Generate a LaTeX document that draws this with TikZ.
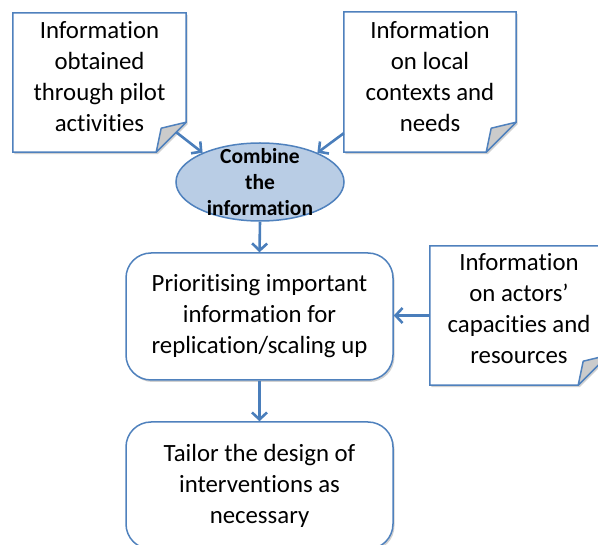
\documentclass[tikz,border=0pt]{standalone}
\usepackage{fontspec}
\setmainfont{Carlito}[Ligatures={NoCommon}]
\usetikzlibrary{shapes.geometric,arrows.meta,calc,shadows}
\definecolor{bordblue}{HTML}{4F81BD}
\definecolor{arrblue}{HTML}{4A7EBB}
\definecolor{ellfill}{HTML}{B9CDE5}
\definecolor{foldgray}{HTML}{CBCBCB}
\newcommand\mybodyfont{\fontsize{24.8}{31}\selectfont}
\newcommand\mynote[1]{%
  \path[notebody] (#1.north west) -- (#1.north east) -- ($(#1.south east)+(0pt,30pt)$) -- ($(#1.south east)+(-30pt,0pt)$) -- (#1.south west) -- cycle;
  \path[notefold] ($(#1.south east)+(0pt,30pt)$) -- ($(#1.south east)+(-25pt,24pt)$) -- ($(#1.south east)+(-30pt,0pt)$) -- cycle;
}
\tikzset{
  mydrop/.style={drop shadow={shadow xshift=1.5pt, shadow yshift=-2pt, opacity=0.18, fill=black}},
  notearea/.style={draw=none, minimum width=#1, inner sep=0pt},
  notebody/.style={draw=bordblue, line width=1.5pt, fill=white, line join=miter, mydrop},
  notefold/.style={draw=bordblue, line width=1.5pt, fill=foldgray, line join=round},
  txt/.style={align=center, font=\mybodyfont, inner sep=0pt},
  roundbox/.style={draw=bordblue, line width=1.5pt, fill=white, rounded corners=25pt,
    minimum width=267pt, minimum height=127pt, align=center, font=\mybodyfont, inner sep=0pt, mydrop},
  ellbox/.style={ellipse, draw=bordblue, line width=1.5pt, fill=ellfill, minimum width=168pt, minimum height=78pt, inner sep=0pt},
  ellt/.style={align=center, font=\fontsize{21.5}{26}\selectfont\bfseries, inner sep=0pt},
  conn/.style={draw=arrblue, line width=2.6pt, -{Straight Barb[length=7pt,width=15pt]}}
}
\begin{document}
\begin{tikzpicture}[x=1pt,y=-1pt]
\useasboundingbox (0,0) rectangle (598,545);
\clip (0,0) rectangle (598,545);
% note areas
\node[notearea=173pt, minimum height=139pt] (n1) at (99.5,82.5) {};
\node[notearea=172pt, minimum height=140pt] (n2) at (430,82) {};
\node[notearea=178pt, minimum height=139pt] (n3) at (519,315.5) {};
\mynote{n1}
\mynote{n2}
\mynote{n3}
\node[txt] (t1) at ($(n1.center)+(0pt,5.5pt)$) {Information\\obtained\\through pilot\\activities};
\node[txt] (t2) at ($(n2.center)+(0pt,5.5pt)$) {Information\\on local\\contexts and\\needs};
\node[txt] (t3) at ($(n3.center)+(0pt,6.5pt)$) {Information\\on actors’\\capacities and\\resources};
% ellipse
\node[ellbox] (ell) at (260,182) {};
\node[ellt] (ellt) at (ell.center) {Combine\\the\\information};
% boxes
\node[roundbox] (mid) at (259.5,316.5) {Prioritising important\\information for\\replication/scaling up};
\node[roundbox] (bot) at (259.5,485.5) {Tailor the design of\\interventions as\\necessary};
% connectors
\coordinate (s1) at ($(n1.south east)+(-10pt,20pt)$);
\coordinate (s2) at ($(n2.south west)+(0pt,19pt)$);
\draw[conn] (s1) -- (ell.153);
\draw[conn] (s2) -- (ell.27);
\draw[conn] (ell.south) -- (mid.north);
\draw[conn] (mid.south) -- (bot.north);
\draw[conn] (n3.west) -- (n3.west -| mid.east);
\end{tikzpicture}
\end{document}
